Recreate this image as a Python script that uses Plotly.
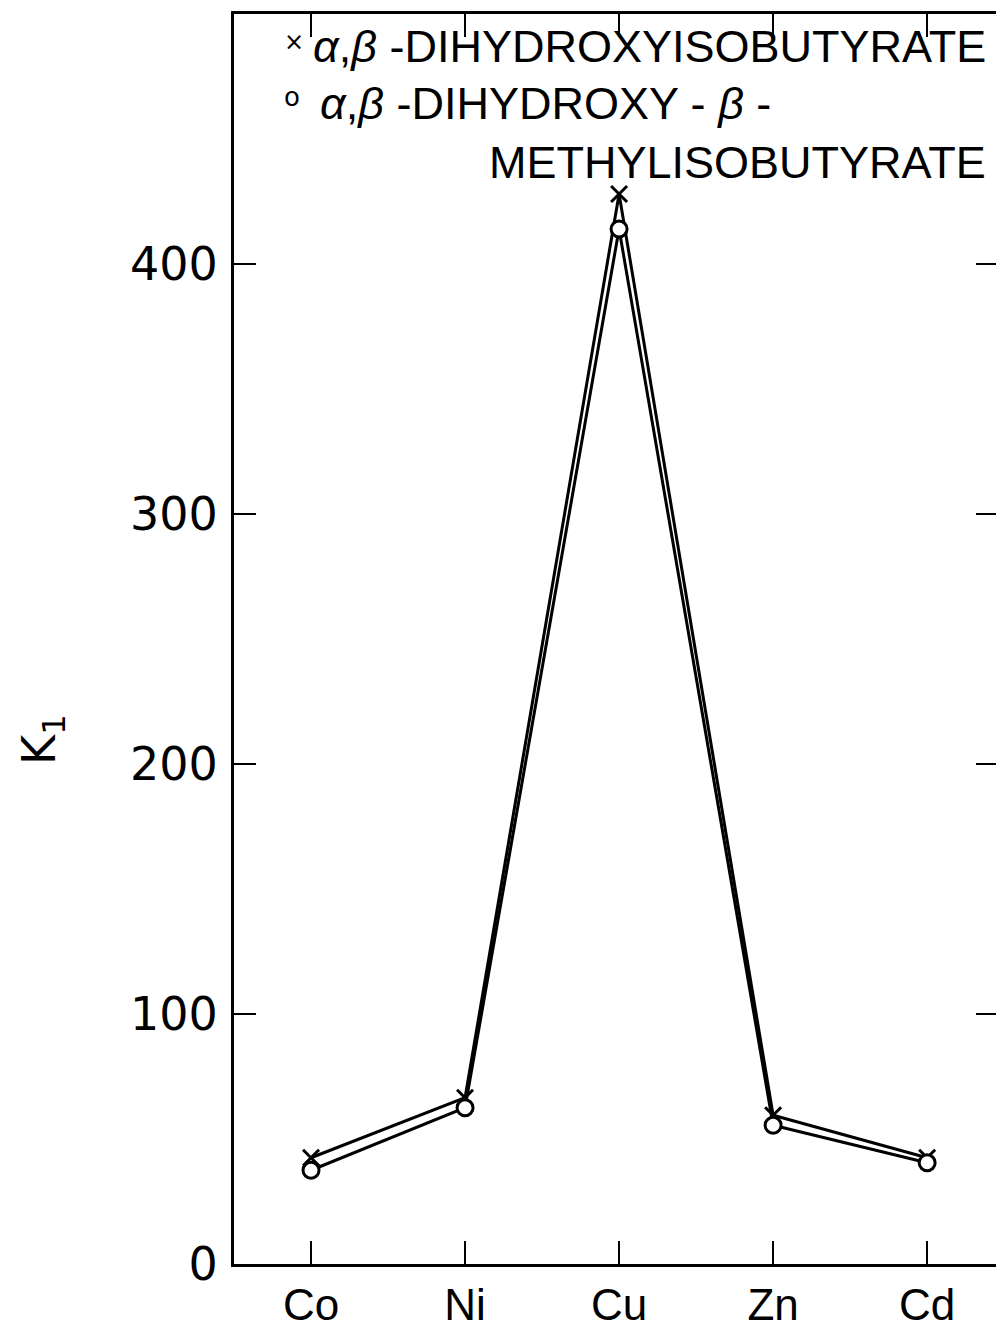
import plotly.graph_objects as go

metals = ["Co", "Ni", "Cu", "Zn", "Cd"]
k1_dihydroxyisobutyrate = [42.5, 66.5, 428, 59.5, 42.5]
k1_methylisobutyrate = [37.5, 62.5, 414, 55.5, 40.5]
y_ticks = [0, 100, 200, 300, 400]
y_tick_labels = ["0", "100", "200", "300", "400"]

OFF = 8  # default page body margin
W, H = 1004 - OFF, 1332 - OFF
# plot box in page pixels: left 234, top 14, right 998, bottom 1264
L, T = 234 - OFF, 14 - OFF
R = W - (998 - OFF)
B = H - (1264 - OFF)
pw, ph = W - L - R, H - T - B

def px(x):
    return (x - OFF - L) / pw

def py(y):
    return (H - B - (y - OFF)) / ph

sans = "Liberation Sans, Arial, sans-serif"

fig = go.Figure()
fig.add_trace(go.Scatter(
    x=metals, y=k1_dihydroxyisobutyrate, mode="lines+markers",
    line=dict(color="black", width=3),
    marker=dict(symbol="x-thin", size=16, color="black",
                line=dict(color="black", width=3)),
    showlegend=False))
fig.add_trace(go.Scatter(
    x=metals, y=k1_methylisobutyrate, mode="lines+markers",
    line=dict(color="black", width=3),
    marker=dict(symbol="circle", size=16, color="white",
                line=dict(color="black", width=3)),
    showlegend=False))

axis_common = dict(showline=True, linecolor="black", linewidth=3, mirror="ticks",
                   ticks="inside", tickcolor="black", tickwidth=2, showgrid=False,
                   zeroline=False, automargin=False)

fig.update_xaxes(range=[-0.5, 4.46], ticklen=23, type="category",
                 tickfont=dict(family=sans, size=44, color="black"),
                 ticklabelstandoff=0, **axis_common)
fig.update_yaxes(range=[0, 500], tickvals=y_ticks, ticktext=y_tick_labels, ticklen=22,
                 tickfont=dict(family="DejaVu Sans", size=46, color="black"),
                 ticklabelstandoff=4, **axis_common)

def note(x, y, text, size, xanchor="center", angle=0, family=sans):
    return dict(x=px(x), y=py(y), xref="paper", yref="paper", text=text,
                xanchor=xanchor, yanchor="middle", textangle=angle, showarrow=False,
                font=dict(family=family, size=size, color="black"))

ann = [
    note(42, 740, "K<sub>1</sub>", 46, angle=-90, family="DejaVu Sans"),
    note(294, 42, "×", 24, family="DejaVu Sans"),
    note(292, 97, "o", 26, family="DejaVu Sans"),
    note(988, 47, "<i>α</i>,<i>β</i> -DIHYDROXYISOBUTYRATE", 45, xanchor="right"),
    note(318, 103, "<i>α</i>,<i>β</i> -DIHYDROXY - <i>β</i> -", 45, xanchor="left"),
    note(988, 163, "METHYLISOBUTYRATE", 45, xanchor="right"),
]

fig.update_layout(width=W, height=H, margin=dict(l=L, r=R, t=T, b=B),
                  paper_bgcolor="white", plot_bgcolor="white", annotations=ann)

fig.write_html("out.html")
